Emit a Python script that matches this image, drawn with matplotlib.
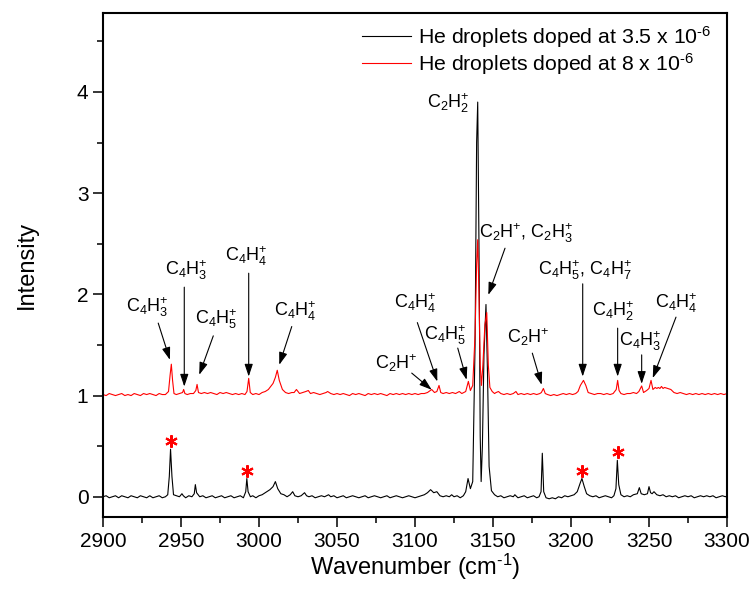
import matplotlib

matplotlib.use("Agg")
import matplotlib.pyplot as plt
from matplotlib.ticker import MultipleLocator

plt.rcParams["font.family"] = ["Liberation Sans", "DejaVu Sans"]
plt.rcParams["mathtext.fontset"] = "custom"
plt.rcParams["mathtext.rm"] = "Liberation Sans"
plt.rcParams["mathtext.it"] = "Liberation Sans:italic"
plt.rcParams["mathtext.bf"] = "Liberation Sans:bold"

# hand-read trace of the 3.5e-6 spectrum: (wavenumber, intensity)
LOW_TRACE = [
    (2900, 0.00), (2902, 0.01), (2904, -0.01), (2906, 0.00), (2908, 0.01), (2910, -0.01),
    (2912, 0.01), (2914, 0.00), (2916, -0.01), (2918, 0.01), (2920, 0.00), (2922, -0.01),
    (2924, 0.01), (2926, 0.00), (2928, -0.01), (2930, 0.01), (2932, -0.01), (2934, 0.00),
    (2936, 0.01), (2938, -0.01), (2940, 0.00), (2941.5, 0.02), (2942.5, 0.20), (2943.3, 0.47),
    (2944.2, 0.20), (2945.2, 0.02), (2947, 0.01), (2949, 0.00), (2950.6, 0.03), (2951.5, 0.01),
    (2953, -0.01), (2955, 0.01), (2957, 0.00), (2958.5, 0.03), (2959.2, 0.12), (2960, 0.04),
    (2962, 0.00), (2964, 0.01), (2966, -0.01), (2968, 0.00), (2970, 0.01), (2972, -0.01),
    (2974, 0.00), (2976, 0.01), (2978, -0.01), (2980, 0.00), (2982, 0.01), (2984, -0.01),
    (2986, 0.00), (2988, 0.01), (2990, -0.01), (2991.5, 0.05), (2992.2, 0.18), (2993, 0.05),
    (2994.5, 0.00), (2996, 0.01), (2998, -0.01), (3000, 0.01), (3002, 0.02), (3004, 0.04),
    (3005, 0.05), (3007, 0.07), (3009, 0.10), (3010.5, 0.15), (3012, 0.08), (3014, 0.03),
    (3016, 0.02), (3018, 0.00), (3020, 0.02), (3021.6, 0.05), (3023, 0.01), (3025, 0.00),
    (3027, 0.01), (3029.2, 0.04), (3030.5, 0.01), (3032, 0.00), (3034, 0.01), (3036, -0.01),
    (3038, 0.00), (3040, 0.01), (3042, 0.00), (3044.6, 0.02), (3046, 0.00), (3048, 0.01),
    (3050, -0.01), (3052, 0.00), (3054, 0.01), (3056, -0.01), (3058, 0.00), (3060, 0.01),
    (3062, 0.00), (3064, -0.01), (3066, 0.00), (3068, 0.01), (3070, -0.01), (3072, 0.00),
    (3074, 0.01), (3076, 0.00), (3078, -0.01), (3080, 0.00), (3082, 0.01), (3084, -0.01),
    (3086, 0.00), (3088, 0.01), (3090, 0.00), (3092, -0.01), (3094, 0.00), (3096, 0.01),
    (3098, 0.00), (3100, -0.01), (3102, 0.00), (3104, 0.01), (3106, 0.02), (3108, 0.04),
    (3110, 0.07), (3112, 0.04), (3114, 0.05), (3116, 0.01), (3118, 0.00), (3120, 0.01),
    (3122, 0.00), (3123.5, 0.02), (3125, 0.00), (3127, 0.01), (3129, -0.01), (3131, 0.01),
    (3132.5, 0.05), (3134, 0.18), (3135.5, 0.08), (3137, 0.15), (3138.5, 1.50), (3139.5, 3.50),
    (3140.2, 3.90), (3141, 2.50), (3141.8, 0.60), (3142.4, 0.15), (3143.2, 0.50), (3144.2, 1.40),
    (3145.5, 1.90), (3146.5, 1.20), (3147.5, 0.30), (3149, 0.06), (3151, 0.02), (3153, 0.00),
    (3155, 0.01), (3157, -0.01), (3159, 0.00), (3161, 0.01), (3163, 0.00), (3164, 0.02),
    (3166, -0.01), (3168, 0.00), (3170, 0.01), (3172, -0.01), (3174, 0.00), (3176, 0.01),
    (3178, -0.01), (3179.5, 0.00), (3180.8, 0.05), (3181.6, 0.43), (3182.5, 0.05), (3184, -0.01),
    (3186, -0.02), (3188, -0.01), (3190, -0.02), (3192, 0.00), (3194, -0.01), (3196, 0.01),
    (3198, 0.00), (3200, 0.01), (3202, 0.02), (3204, 0.05), (3206, 0.14), (3207, 0.18),
    (3208.5, 0.10), (3210, 0.03), (3212, 0.01), (3214, 0.00), (3216, 0.01), (3218, -0.01),
    (3220, 0.00), (3222, 0.01), (3224, 0.00), (3226, -0.01), (3227.5, 0.01), (3228.8, 0.08),
    (3229.7, 0.36), (3230.6, 0.12), (3232, 0.02), (3234, 0.00), (3236, 0.01), (3238, 0.00),
    (3240, 0.02), (3242.5, 0.03), (3243.8, 0.09), (3245, 0.03), (3247, 0.02), (3249, 0.03),
    (3250, 0.10), (3251, 0.04), (3252, 0.03), (3253.2, 0.05), (3255, 0.02), (3257, 0.01),
    (3259, 0.02), (3261, 0.00), (3263, 0.01), (3265, 0.00), (3267, 0.01), (3269, -0.01),
    (3271, 0.00), (3273, 0.01), (3275, 0.00), (3277, 0.01), (3279, -0.01), (3281, 0.00),
    (3283, 0.01), (3285, 0.00), (3287, 0.01), (3289, 0.00), (3291, 0.01), (3293, -0.01),
    (3295, 0.00), (3297, 0.01), (3299, 0.00), (3300, 0.01),
]

# hand-read trace of the 8e-6 spectrum, as plotted (offset by +1)
HIGH_TRACE = [
    (2900, 1.01), (2902, 1.00), (2904, 1.02), (2906, 1.01), (2908, 1.00), (2910, 1.01),
    (2912, 1.02), (2914, 1.00), (2916, 1.01), (2918, 1.00), (2920, 1.02), (2922, 1.01),
    (2924, 1.00), (2926, 1.02), (2928, 1.01), (2930, 1.02), (2932, 1.01), (2934, 1.00),
    (2936, 1.02), (2938, 1.01), (2940, 1.01), (2942, 1.04), (2943, 1.20), (2943.8, 1.31),
    (2944.6, 1.15), (2945.5, 1.02), (2947, 1.01), (2949, 1.02), (2951, 1.03), (2951.7, 1.06),
    (2952.5, 1.02), (2954, 1.01), (2956, 1.02), (2958, 1.02), (2959.5, 1.05), (2960.3, 1.11),
    (2961.2, 1.03), (2963, 1.02), (2965, 1.03), (2967, 1.02), (2969, 1.03), (2971, 1.02),
    (2973, 1.01), (2975, 1.03), (2977, 1.02), (2979, 1.03), (2981, 1.02), (2983, 1.01),
    (2985, 1.02), (2987, 1.01), (2989, 1.02), (2991, 1.01), (2992.3, 1.04), (2993.4, 1.17),
    (2994.4, 1.03), (2996, 1.01), (2998, 1.02), (3000, 1.01), (3002, 1.03), (3004, 1.04),
    (3006, 1.06), (3007.5, 1.09), (3009, 1.12), (3010.5, 1.18), (3011.7, 1.25), (3013, 1.15),
    (3015, 1.06), (3017, 1.03), (3019, 1.02), (3021, 1.03), (3022.5, 1.03), (3024, 1.06),
    (3026, 1.02), (3028, 1.03), (3030, 1.04), (3031.6, 1.05), (3033, 1.02), (3035, 1.03),
    (3037, 1.02), (3039, 1.01), (3041, 1.02), (3043, 1.03), (3044, 1.04), (3046, 1.02),
    (3048, 1.01), (3050, 1.02), (3052, 1.01), (3054, 1.02), (3056, 1.01), (3058, 1.00),
    (3060, 1.02), (3062, 1.01), (3064, 1.02), (3066, 1.01), (3068, 1.00), (3070, 1.02),
    (3072, 1.01), (3074, 1.02), (3076, 1.01), (3078, 1.02), (3080, 1.01), (3082, 1.00),
    (3084, 1.02), (3086, 1.01), (3088, 1.02), (3090, 1.01), (3092, 1.02), (3094, 1.01),
    (3096, 1.02), (3098, 1.01), (3100, 1.02), (3102, 1.01), (3104, 1.02), (3106, 1.02),
    (3108, 1.03), (3110.7, 1.06), (3112.5, 1.03), (3114, 1.04), (3115.4, 1.10), (3116.5, 1.03),
    (3118, 1.02), (3120, 1.03), (3122, 1.02), (3124, 1.03), (3126, 1.02), (3128.4, 1.04),
    (3130, 1.02), (3132.5, 1.04), (3134.2, 1.14), (3135.5, 1.05), (3137, 1.10), (3138.5, 1.60),
    (3139.5, 2.30), (3140.2, 2.54), (3141, 2.00), (3141.8, 1.30), (3142.6, 1.10), (3143.5, 1.30),
    (3144.8, 1.70), (3146, 1.82), (3147, 1.30), (3148, 1.08), (3149.5, 1.04), (3151, 1.02),
    (3152, 1.03), (3153.5, 1.04), (3155, 1.02), (3157, 1.01), (3159, 1.02), (3161, 1.01),
    (3163, 1.02), (3164.7, 1.04), (3166, 1.01), (3168, 1.02), (3170, 1.01), (3172, 1.02),
    (3174, 1.01), (3176, 1.02), (3178, 1.01), (3180, 1.02), (3181, 1.03), (3182.3, 1.07),
    (3183.5, 1.02), (3185, 1.01), (3187, 1.00), (3189, 1.01), (3191, 1.00), (3193, 1.01),
    (3195, 1.02), (3197, 1.01), (3199, 1.02), (3201, 1.01), (3203, 1.02), (3204.5, 1.04),
    (3206, 1.10), (3208, 1.15), (3209.5, 1.10), (3211, 1.03), (3213, 1.02), (3215, 1.01),
    (3217, 1.02), (3219, 1.02), (3221, 1.01), (3223, 1.02), (3225, 1.01), (3227, 1.02),
    (3229, 1.06), (3229.9, 1.15), (3230.8, 1.05), (3232, 1.02), (3234, 1.01), (3236, 1.02),
    (3238, 1.02), (3240, 1.03), (3242, 1.02), (3243.5, 1.04), (3245.3, 1.095), (3246.5, 1.03),
    (3248.5, 1.05), (3250, 1.07), (3251.3, 1.15), (3252.5, 1.06), (3254, 1.08), (3255, 1.07),
    (3256, 1.08), (3257, 1.07), (3258, 1.09), (3259, 1.07), (3260, 1.08), (3262, 1.07),
    (3264, 1.06), (3266, 1.03), (3268, 1.02), (3270, 1.03), (3272, 1.02), (3274, 1.01),
    (3276, 1.02), (3278, 1.01), (3280, 1.02), (3282, 1.01), (3284, 1.02), (3286, 1.01),
    (3288, 1.02), (3290, 1.01), (3292, 1.02), (3294, 1.01), (3296, 1.02), (3298, 1.01),
    (3300, 1.02),
]

LEGEND_LABELS = [
    r"He droplets doped at 3.5 x 10$^{\text{-}6}$",
    r"He droplets doped at 8 x 10$^{\text{-}6}$",
]

# red asterisks above the low-doping peaks
STAR_X = [2943.8, 2992.2, 3206.8, 3230.3]
STAR_Y = [0.55, 0.25, 0.255, 0.447]

# peak labels: text, text position, arrow tail, arrow tip (None = no arrow)
LABELS = [
    r"C$_4$H$_3^{+}$", r"C$_4$H$_3^{+}$", r"C$_4$H$_5^{+}$", r"C$_4$H$_4^{+}$", r"C$_4$H$_4^{+}$",
    r"C$_2$H$^{+}$", r"C$_4$H$_4^{+}$", r"C$_4$H$_5^{+}$", r"C$_2$H$_2^{+}$",
    r"C$_2$H$^{+}$, C$_2$H$_3^{+}$", r"C$_2$H$^{+}$", r"C$_4$H$_5^{+}$, C$_4$H$_7^{+}$",
    r"C$_4$H$_2^{+}$", r"C$_4$H$_3^{+}$", r"C$_4$H$_4^{+}$",
]
LABEL_POS = [
    (2928.4, 1.874), (2953.7, 2.242), (2972.9, 1.755), (2992.1, 2.373), (3023.1, 1.830),
    (3088.3, 1.320), (3100.0, 1.913), (3119.2, 1.600), (3121.3, 3.888),
    (3171.2, 2.604), (3172.6, 1.577), (3209.0, 2.235),
    (3227.1, 1.830), (3244.2, 1.534), (3267.3, 1.913),
]
ARROW_TAIL = [
    (2935.4, 1.716), (2952.1, 2.071), (2970.7, 1.590), (2993.4, 2.209), (3021.0, 1.682),
    (3097.9, 1.222), (3101.5, 1.721), (3127.4, 1.469), None,
    (3157.7, 2.456), (3175.2, 1.419), (3207.5, 2.104),
    (3229.9, 1.666), (3245.3, 1.402), (3267.3, 1.775),
]
ARROW_TIP = [
    (2942.9, 1.353), (2952.1, 1.089), (2961.7, 1.205), (2993.4, 1.188), (3013.0, 1.304),
    (3110.7, 1.057), (3114.3, 1.139), (3133.1, 1.156), None,
    (3147.0, 1.995), (3181.2, 1.106), (3207.5, 1.188),
    (3229.9, 1.188), (3245.3, 1.116), (3252.4, 1.173),
]


def main() -> None:
    fig = plt.figure(figsize=(7.54, 6.02), dpi=100)
    ax = fig.add_axes([0.1366, 0.1412, 0.8276, 0.8380])

    low_x, low_y = zip(*LOW_TRACE)
    high_x, high_y = zip(*HIGH_TRACE)
    ax.plot(low_x, low_y, color="black", lw=0.8, label=LEGEND_LABELS[0])
    ax.plot(high_x, high_y, color="red", lw=0.8, label=LEGEND_LABELS[1])
    ax.plot(STAR_X, STAR_Y, linestyle="none", marker=(6, 2, 0), markersize=9,
            markeredgewidth=1.5, color="red")

    for text, pos, tail, tip in zip(LABELS, LABEL_POS, ARROW_TAIL, ARROW_TIP):
        ax.text(pos[0], pos[1], text, fontsize=13, ha="center", va="center")
        if tail is None:
            continue
        ax.annotate("", xy=tip, xytext=tail,
                    arrowprops=dict(arrowstyle="-|>,head_length=0.75,head_width=0.25",
                                    color="black", lw=0.8, mutation_scale=10,
                                    shrinkA=0, shrinkB=0))

    ax.set_xlim(2900, 3300)
    ax.set_ylim(-0.2, 4.785)
    ax.xaxis.set_major_locator(MultipleLocator(50))
    ax.xaxis.set_minor_locator(MultipleLocator(25))
    ax.yaxis.set_major_locator(MultipleLocator(1))
    ax.yaxis.set_minor_locator(MultipleLocator(0.5))
    ax.tick_params(which="both", direction="out", width=1.1, labelsize=15)
    ax.tick_params(which="major", length=7)
    ax.tick_params(which="minor", length=4)
    for spine in ax.spines.values():
        spine.set_linewidth(1.5)

    ax.set_xlabel(r"Wavenumber (cm$^{\text{-}1}$)", fontsize=17, labelpad=1)
    ax.set_ylabel("Intensity", fontsize=17, labelpad=28)

    ax.legend(loc="upper left", bbox_to_anchor=(0.4146, 0.977), frameon=False,
              fontsize=15.3, handlelength=2.3, handletextpad=0.35,
              labelspacing=0.05, borderaxespad=0, borderpad=0)

    fig.savefig("out.png", dpi=100)


if __name__ == "__main__":
    main()
